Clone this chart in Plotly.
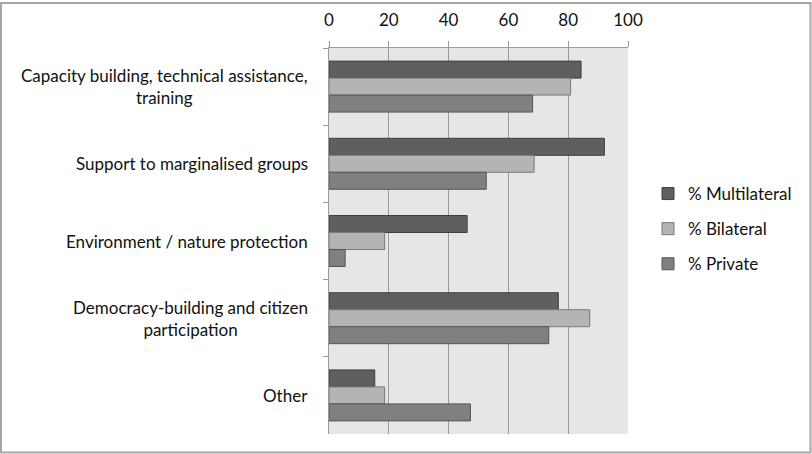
import plotly.graph_objects as go

categories = [
    "Capacity building, technical assistance,<br>training",
    "Support to marginalised groups",
    "Environment / nature protection",
    "Democracy-building and citizen<br>participation",
    "Other",
]
multilateral = [84.3, 92.1, 46.2, 76.7, 15.3]
bilateral = [80.8, 68.6, 18.6, 87.2, 18.6]
private = [68.1, 52.6, 5.4, 73.5, 47.3]
x_ticks = [0, 20, 40, 60, 80, 100]

W, H = 812, 454
L, R, T, B = 329, 184, 48, 20
pw, ph = W - L - R, H - T - B

def px(x):
    return (x - L) / pw

def py(y):
    return 1 - (y - T) / ph

FONT = "Lato"
FS = 17
TXT = "#111111"

fig = go.Figure()
series = [
    ("% Multilateral", multilateral, "#5f5f5f", "#3f3f3f"),
    ("% Bilateral", bilateral, "#b4b4b4", "#7a7a7a"),
    ("% Private", private, "#808080", "#555555"),
]
for name, vals, fill, edge in series:
    fig.add_trace(go.Bar(
        x=vals, y=categories, orientation="h", name=name,
        marker=dict(color=fill, line=dict(color=edge, width=1)),
        legendgroup=name,
    ))

annotations = []
for c in categories:
    annotations.append(dict(
        text=c, x=px(310), xref="paper", y=c, yref="y",
        xanchor="right", yanchor="middle", align="center",
        showarrow=False, font=dict(family=FONT, size=FS, color=TXT),
    ))

fig.update_layout(
    width=W, height=H,
    margin=dict(l=L, r=R, t=T, b=B, pad=0, autoexpand=False),
    paper_bgcolor="white",
    plot_bgcolor="#e6e6e6",
    barmode="group",
    bargap=0.34,
    bargroupgap=0,
    font=dict(family=FONT, size=FS, color=TXT),
    showlegend=True,
    legend=dict(
        x=px(648), y=py(176), xanchor="left", yanchor="top",
        traceorder="grouped", tracegroupgap=10,
        font=dict(family=FONT, size=FS, color=TXT),
        bgcolor="rgba(0,0,0,0)",
    ),
    xaxis=dict(
        side="top", range=[0, 100], tickvals=x_ticks,
        showgrid=True, gridcolor="#9a9a9a", gridwidth=1,
        showline=True, linecolor="#9a9a9a", linewidth=1,
        ticks="outside", ticklen=6, tickcolor="#9a9a9a",
        ticklabelstandoff=8, automargin=False,
        zeroline=False, fixedrange=True,
        tickfont=dict(family=FONT, size=FS, color=TXT),
    ),
    yaxis=dict(
        autorange="reversed", showticklabels=False, automargin=False,
        tickson="boundaries", ticks="outside", ticklen=5, tickcolor="#9a9a9a",
        showline=True, linecolor="#9a9a9a", linewidth=1,
        showgrid=False, zeroline=False, fixedrange=True,
    ),
    annotations=annotations,
    shapes=[dict(
        type="rect", xref="paper", yref="paper",
        x0=px(1), x1=px(810.5), y0=py(452.5), y1=py(3),
        line=dict(color="#a6a6a6", width=2), fillcolor="rgba(0,0,0,0)",
        layer="above",
    )],
)

fig.write_html(
    "out.html",
    config={"displayModeBar": False},
    post_script="document.body.style.margin='0';document.body.style.overflow='hidden';",
)
